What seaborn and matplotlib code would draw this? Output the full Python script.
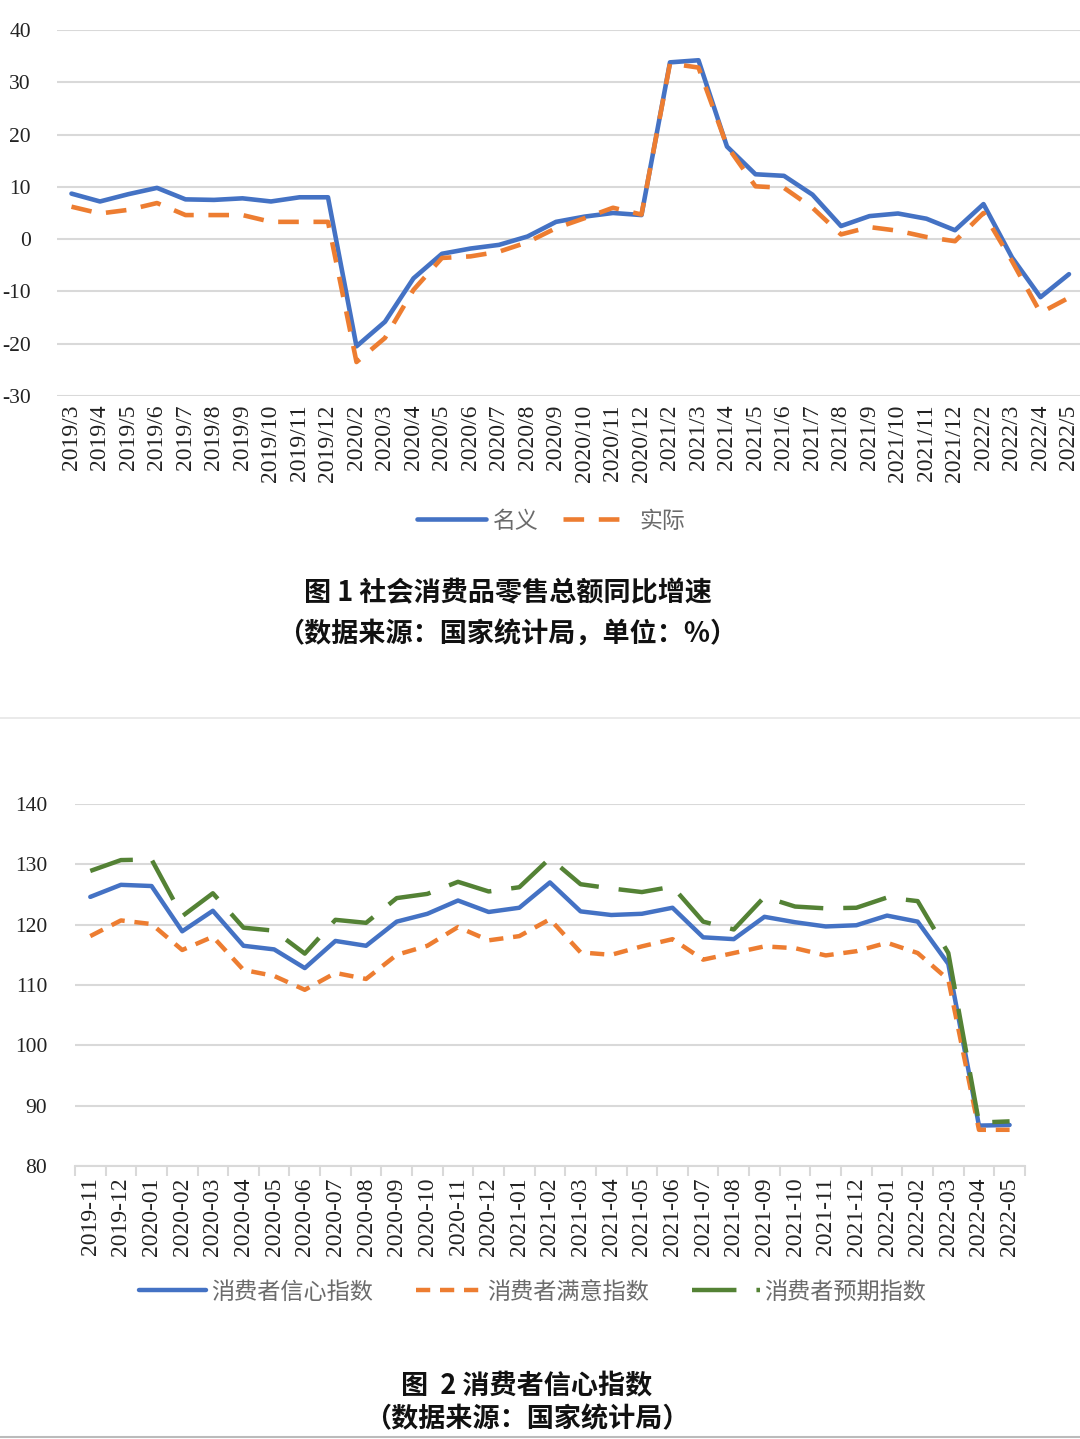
import numpy as np
import pandas as pd
import seaborn as sns
import matplotlib
matplotlib.use("Agg")
import matplotlib.pyplot as plt
from matplotlib.lines import Line2D

# --- 数据：图1 社会消费品零售总额同比增速 ---
months1 = ['2019/3', '2019/4', '2019/5', '2019/6', '2019/7', '2019/8', '2019/9',
           '2019/10', '2019/11', '2019/12',
           '2020/2', '2020/3', '2020/4', '2020/5', '2020/6', '2020/7', '2020/8',
           '2020/9', '2020/10', '2020/11', '2020/12',
           '2021/2', '2021/3', '2021/4', '2021/5', '2021/6', '2021/7', '2021/8',
           '2021/9', '2021/10', '2021/11', '2021/12',
           '2022/2', '2022/3', '2022/4', '2022/5']
nominal = [8.7, 7.2, 8.6, 9.8, 7.6, 7.5, 7.8, 7.2, 8.0, 8.0,
           -20.5, -15.8, -7.5, -2.8, -1.8, -1.1, 0.5, 3.3, 4.3, 5.0, 4.6,
           33.8, 34.2, 17.7, 12.4, 12.1, 8.5, 2.5, 4.4, 4.9, 3.9, 1.7,
           6.7, -3.5, -11.1, -6.7]
real = [6.2, 4.9, 5.6, 6.9, 4.6, 4.6, 4.6, 3.3, 3.3, 3.3,
        -23.5, -18.9, -9.7, -3.6, -3.3, -2.4, -0.6, 2.1, 4.0, 6.0, 4.7,
        33.6, 32.8, 17.8, 10.1, 9.8, 6.0, 0.9, 2.3, 1.6, 0.4, -0.4,
        5.0, -4.2, -14.1, -11.2]

# --- 数据：图2 消费者信心指数 ---
months2 = ['2019-11', '2019-12', '2020-01', '2020-02', '2020-03', '2020-04',
           '2020-05', '2020-06', '2020-07', '2020-08', '2020-09', '2020-10',
           '2020-11', '2020-12', '2021-01', '2021-02', '2021-03', '2021-04',
           '2021-05', '2021-06', '2021-07', '2021-08', '2021-09', '2021-10',
           '2021-11', '2021-12', '2022-01', '2022-02', '2022-03', '2022-04',
           '2022-05']
confidence = [124.6, 126.6, 126.4, 118.9, 122.3, 116.5, 115.9, 112.8, 117.3, 116.5,
              120.5, 121.8, 124.0, 122.1, 122.8, 127.0, 122.2, 121.6, 121.8, 122.8,
              117.9, 117.6, 121.3, 120.4, 119.7, 119.9, 121.5, 120.5, 113.5, 86.7,
              86.8]
satisfaction = [118.1, 120.7, 120.1, 115.8, 118.0, 112.5, 111.5, 109.2, 112.0, 111.0,
                115.0, 116.5, 119.6, 117.4, 118.1, 120.9, 115.4, 115.0, 116.4, 117.6,
                114.2, 115.3, 116.4, 116.1, 114.9, 115.6, 117.0, 115.3, 110.9, 86.0,
                86.0]
expectation = [128.9, 130.7, 130.8, 121.4, 125.2, 119.5, 119.0, 115.2, 120.8, 120.3,
               124.4, 125.1, 127.1, 125.5, 126.2, 131.0, 126.7, 126.0, 125.4, 126.3,
               120.5, 119.2, 124.6, 123.0, 122.7, 122.8, 124.5, 123.9, 115.3, 87.2,
               87.4]

BLUE = '#4472C4'
ORANGE = '#ED7D31'
GREEN = '#548235'
GRID = '#d9d9d9'

sns.set_theme(style='white')
plt.rcParams['font.family'] = ['Liberation Serif', 'Noto Sans CJK SC', 'DejaVu Sans']
plt.rcParams['axes.unicode_minus'] = False
CJK = ['Noto Sans CJK SC', 'DejaVu Sans']

fig = plt.figure(figsize=(10.8, 14.39), dpi=100)

# ---------------- 图 1 ----------------
ax1 = fig.add_axes([0.053, 0.7248, 0.95, 0.2544])
df1 = pd.DataFrame({'idx': np.arange(len(months1)), 'nominal': nominal, 'real': real})
sns.lineplot(data=df1, x='idx', y='nominal', ax=ax1, color=BLUE, lw=3.3, label='名义')
sns.lineplot(data=df1, x='idx', y='real', ax=ax1, color=ORANGE, lw=3.3,
             linestyle=(0, (4.5, 3.2)), label='实际')
ax1.set_xlim(-0.5, len(months1) - 0.5)
ax1.set_ylim(-30, 40)
ax1.set_yticks(np.arange(-30, 41, 10))
ax1.set_xticks(np.arange(len(months1)))
ax1.set_xticklabels(months1, rotation=90, fontsize=17, color='#222222')
ax1.tick_params(axis='y', labelsize=15.5, labelcolor='#222222', length=0, pad=19)
ax1.tick_params(axis='x', length=0, pad=6)
ax1.grid(axis='y', color=GRID, lw=1.5)
ax1.set_axisbelow(True)
for s in ax1.spines.values():
    s.set_visible(False)
ax1.set_xlabel('')
ax1.set_ylabel('')
ax1.legend(loc='center', bbox_to_anchor=(0.51, 1 - 521 / 1439), bbox_transform=fig.transFigure,
           ncol=2, frameon=False, handlelength=3.0, columnspacing=1.1, handletextpad=0.3,
           prop={'family': CJK, 'size': 16.5})
for t in ax1.get_legend().get_texts():
    t.set_color('#6b6b6b')

fig.text(0.47, 1 - 593 / 1439, '图 1 社会消费品零售总额同比增速', ha='center', va='center',
         fontsize=19.5, fontweight='bold', family=CJK, color='#111111')
fig.text(0.47, 1 - 635 / 1439, '（数据来源：国家统计局，单位：%）', ha='center', va='center',
         fontsize=19.5, fontweight='bold', family=CJK, color='#111111')

# 分隔线
fig.add_artist(Line2D([0, 1], [1 - 718 / 1439] * 2, transform=fig.transFigure, color='#e6e6e6', lw=1.2))
fig.add_artist(Line2D([0, 1], [1 - 1437 / 1439] * 2, transform=fig.transFigure, color='#bbbbbb', lw=1.5))

# ---------------- 图 2 ----------------
ax2 = fig.add_axes([0.0694, 0.1897, 0.8796, 0.2516])
df2 = pd.DataFrame({'idx': np.arange(len(months2)), 'confidence': confidence,
                    'satisfaction': satisfaction, 'expectation': expectation})
sns.lineplot(data=df2, x='idx', y='confidence', ax=ax2, color=BLUE, lw=3.2, label='消费者信心指数')
sns.lineplot(data=df2, x='idx', y='satisfaction', ax=ax2, color=ORANGE, lw=3.2,
             linestyle=(0, (3.2, 2.2)), label='消费者满意指数')
sns.lineplot(data=df2, x='idx', y='expectation', ax=ax2, color=GREEN, lw=3.2,
             linestyle=(0, (10, 4.5)), label='消费者预期指数')
ax2.set_xlim(-0.5, len(months2) - 0.5)
ax2.set_ylim(80, 140)
ax2.set_yticks(np.arange(80, 141, 10))
ax2.set_xticks(np.arange(len(months2)))
ax2.set_xticklabels(months2, rotation=90, fontsize=17, color='#222222')
ax2.set_xticks(np.arange(len(months2) + 1) - 0.5, minor=True)
ax2.tick_params(axis='y', labelsize=15.5, labelcolor='#222222', length=0, pad=20)
ax2.tick_params(axis='x', which='major', length=0, pad=8)
ax2.tick_params(axis='x', which='minor', length=7, width=1.5, color=GRID, bottom=True)
ax2.grid(axis='y', color=GRID, lw=1.5)
ax2.set_axisbelow(True)
for name, s in ax2.spines.items():
    s.set_visible(name == 'bottom')
ax2.spines['bottom'].set_color(GRID)
ax2.spines['bottom'].set_linewidth(1.5)
ax2.set_xlabel('')
ax2.set_ylabel('')
ax2.legend(loc='center', bbox_to_anchor=(0.493, 1 - 1292 / 1439), bbox_transform=fig.transFigure,
           ncol=3, frameon=False, handlelength=2.9, columnspacing=1.85, handletextpad=0.2,
           prop={'family': CJK, 'size': 16.7})
for t in ax2.get_legend().get_texts():
    t.set_color('#6b6b6b')

fig.text(0.488, 1 - 1386 / 1439, '图  2 消费者信心指数', ha='center', va='center',
         fontsize=19.5, fontweight='bold', family=CJK, color='#111111')
fig.text(0.488, 1 - 1419 / 1439, '（数据来源：国家统计局）', ha='center', va='center',
         fontsize=19.5, fontweight='bold', family=CJK, color='#111111')

fig.savefig('out.png', dpi=100)
